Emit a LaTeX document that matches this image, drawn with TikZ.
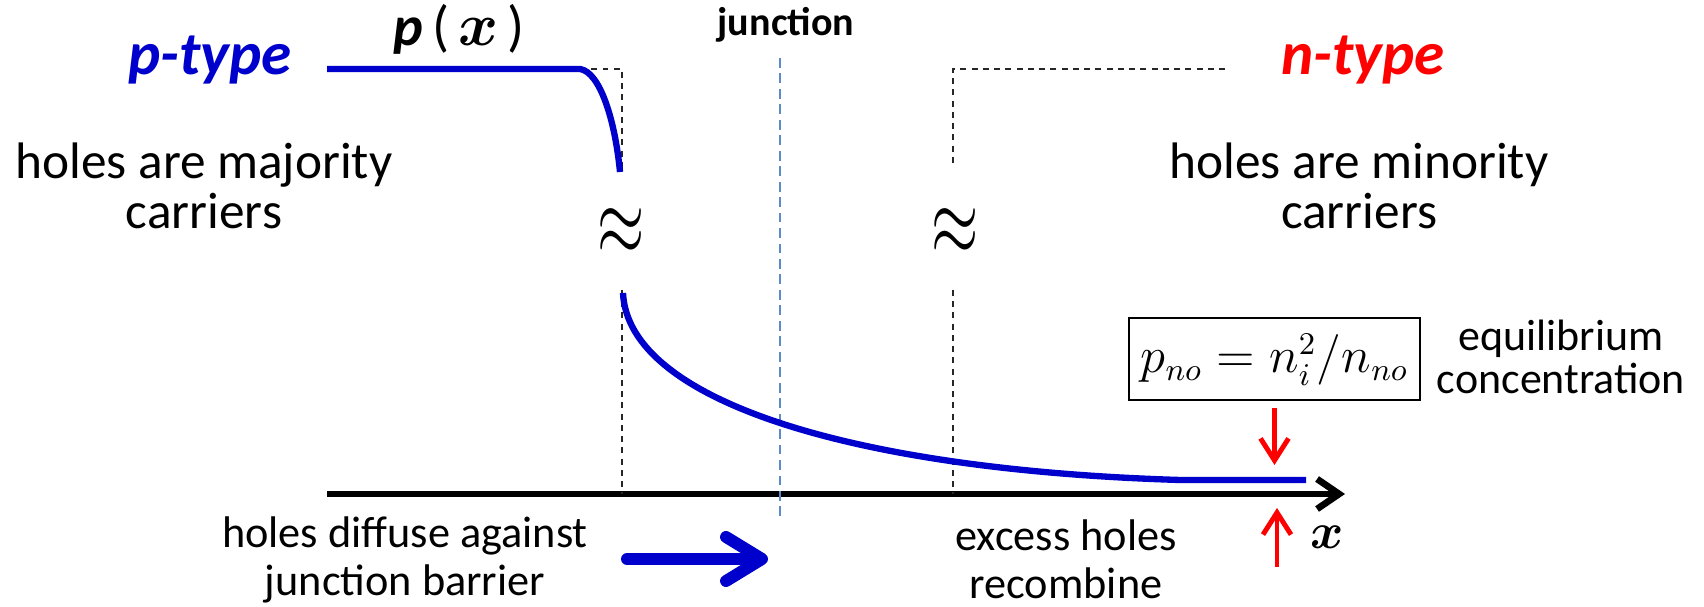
\documentclass[tikz,border=0pt]{standalone}
\usepackage[no-math]{fontspec}
\setmainfont{Carlito}
\usepackage{graphicx}
\usepackage{bm}
\usetikzlibrary{arrows.meta}
\definecolor{holeblue}{RGB}{0,0,204}
\definecolor{juncblue}{RGB}{91,140,200}

\begin{document}
\begin{tikzpicture}[x=1cm,y=1cm,
  guide/.style={black!85, line width=0.6pt, dash pattern=on 1.7pt off 1.5pt},
  conc/.style={holeblue, line width=1.8pt},
  redarrow/.style={red, line width=1.4pt, -{Straight Barb[length=2.2mm, width=2.8mm]}},
  lbl/.style={font={\fontsize{14.6}{14.2}\selectfont}, align=center, inner sep=0pt},
  small/.style={font={\fontsize{12.6}{13.6}\selectfont}, align=center, inner sep=0pt},
  kind/.style={font={\fontsize{17.4}{18}\selectfont\bfseries\itshape}, anchor=base},
  brk/.style={font={\fontsize{17.6}{18}\selectfont}, inner sep=0pt}]
\useasboundingbox (0,0) rectangle (17.04,6.07);
% axis
\coordinate (o) at (3.27,1.13);
\coordinate (xend) at (13.45,1.13);
\draw[line width=1.9pt, -{Straight Barb[length=2.2mm, width=3mm]}] (o) -- (xend);
\node[font={\fontsize{14}{14}\selectfont}] (xlab) at (13.27,0.70) {$\bm{x}$};
% junction
\node[font={\fontsize{11.4}{12}\selectfont\bfseries}, anchor=base] (junc) at (7.86,5.71) {junction};
\coordinate (jtop) at (7.80,5.49);
\coordinate (jbot) at (7.80,0.87);
\draw[juncblue, line width=0.6pt, dash pattern=on 2.8pt off 1.6pt] (jtop) -- (jbot);
% edges of the depletion region
\coordinate (lg1) at (6.22,4.35);
\coordinate (lg2) at (6.22,3.17);
\coordinate (rg0) at (12.25,5.38);
\coordinate (rg1) at (9.53,4.40);
\coordinate (rg2) at (9.53,3.17);
\coordinate (pl) at (3.27,5.38);
\coordinate (pk) at (5.80,5.38);
\draw[guide] (pk) -| (lg1);
\draw[guide] (lg2) -- (lg2 |- o);
\draw[guide] (rg0) -| (rg1);
\draw[guide] (rg2) -- (rg2 |- o);
\node[brk] (brkl) at (6.21,3.75) {\scalebox{1}[1.6]{$\approx$}};
\node[brk] (brkr) at (9.55,3.75) {\scalebox{1}[1.6]{$\approx$}};
% hole concentration
\coordinate (pd) at (6.20,4.35);
\coordinate (pu) at (6.23,3.14);
\coordinate (nf) at (11.80,1.27);
\coordinate (ne) at (13.06,1.27);
\draw[conc] (pl) -- (pk) .. controls (6.00,5.35) and (6.15,4.87) .. (pd);
\draw[conc] (pu) .. controls (6.28,2.07) and (8.50,1.37) .. (nf) -- (ne);
\node[font={\fontsize{16}{18}\selectfont}, anchor=base, inner sep=0pt] (px) at (4.59,5.61) {\textbf{\textit{p}}\,(\,$\bm{x}$\,)};
% labels
\node[kind, text=holeblue] (ptype) at (2.10,5.32) {p-type};
\node[kind, text=red] (ntype) at (13.63,5.32) {n-type};
\node[lbl, anchor=north] (majo) at (2.04,4.65) {holes are majority\\carriers};
\node[lbl, anchor=north] (mino) at (13.59,4.65) {holes are minority\\carriers};
\node[small, anchor=north] (diff) at (4.05,0.91) {holes diffuse against\\junction barrier};
\node[small, anchor=north] (reco) at (10.66,0.88) {excess holes\\recombine};
\node[small, font={\fontsize{12.5}{12.2}\selectfont}, anchor=north] (equil) at (15.61,2.88) {equilibrium\\concentration};
% equilibrium value
\node[draw, line width=0.6pt, minimum width=2.83cm, minimum height=0.82cm, font={\fontsize{13.5}{14}\selectfont}] (pno) at (12.745,2.48) {$p_{no}=n_i^2\Big/n_{no}$};
\coordinate (dtip) at (12.745,1.42);
\coordinate (ubot) at (12.77,0.40);
\coordinate (utip) at (12.77,0.99);
\draw[redarrow, shorten <=0.07cm] (pno.south) -- (dtip);
\draw[redarrow] (ubot) -- (utip);
% diffusion direction
\coordinate (fl) at (6.27,0.48);
\coordinate (fr) at (7.68,0.48);
\draw[holeblue, line width=3.4pt, line cap=round, -{Straight Barb[length=3.6mm, width=4.4mm, round]}] (fl) -- (fr);
\end{tikzpicture}
\end{document}
